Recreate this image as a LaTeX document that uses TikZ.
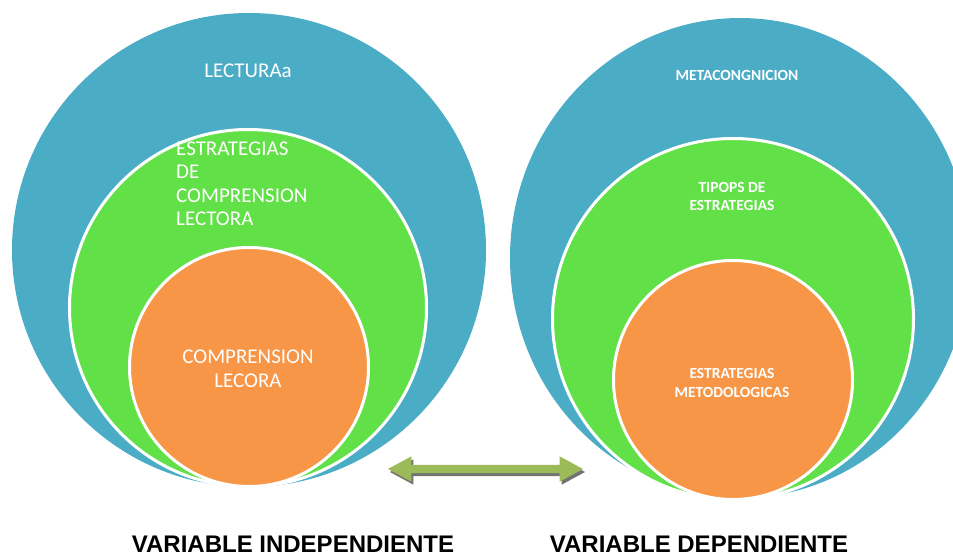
\documentclass[tikz,border=0pt]{standalone}
\usepackage{fontspec}
\setmainfont{Carlito}
\newfontfamily\varfont{Liberation Sans}
\usepackage{tikz}
\usetikzlibrary{arrows,shapes,positioning,shadows}

\definecolor{aqua}{HTML}{4BACC6}
\definecolor{lime}{RGB}{98,224,72}
\definecolor{peach}{HTML}{F79646}
\definecolor{olive}{HTML}{9BBB59}

\begin{document}
\begin{tikzpicture}[x=1pt,y=-1pt,
    ring/.style={line width=3pt,draw=white},
    lbl/.style={text=white,inner sep=0pt,align=center,font=\fontsize{21}{23.5}\selectfont},
    small/.style={text=white,inner sep=0pt,align=center,font=\bfseries\fontsize{15.5}{18.5}\selectfont},
    varlbl/.style={inner sep=0pt,anchor=base,font=\varfont\bfseries\fontsize{24}{28}\selectfont}]
            \clip (0,0) rectangle (953,553);
            % left side
            \fill[aqua] (249,250) circle (237);
            \filldraw[ring,fill=lime] (248,308) circle (178.5);
            \filldraw[ring,fill=peach] (249,367) circle (119.5);
            % right side
            \fill[aqua] (740,258) ellipse (230 and 240);
            \filldraw[ring,fill=lime] (733,319) circle (180.5);
            \filldraw[ring,fill=peach] (733,380) circle (119.5);
            % texts (base = last line)
            \node[lbl,anchor=base] (lectura) at (248,78) {LECTURAa};
            \node[lbl,align=left,anchor=base west] (estrategias) at (176,226) {ESTRATEGIAS\\DE\\COMPRENSION\\LECTORA};
            \node[lbl,anchor=base] (comprension) at (248,387) {COMPRENSION\\LECORA};
            \node[small,anchor=base] (meta) at (737,81) {METACONGNICION};
            \node[small,anchor=base] (tipos) at (732,211) {TIPOPS DE\\ESTRATEGIAS};
            \node[small,anchor=base] (metodo) at (732,397) {ESTRATEGIAS\\METODOLOGICAS};
            % arrow
            \node[double arrow,fill=olive,inner sep=0pt,text height=4pt,text depth=4pt,
                minimum height=195pt,double arrow head extend=8.5pt,double arrow tip angle=57,
                general shadow={shadow xshift=2pt,shadow yshift=-3pt,fill=black!55}] (arrow) at (485.5,469) {};
            \node[varlbl] (indep) at (293,552) {VARIABLE INDEPENDIENTE};
            \node[varlbl] (dep) at (699,552) {VARIABLE DEPENDIENTE};
        \end{tikzpicture}
\end{document}
